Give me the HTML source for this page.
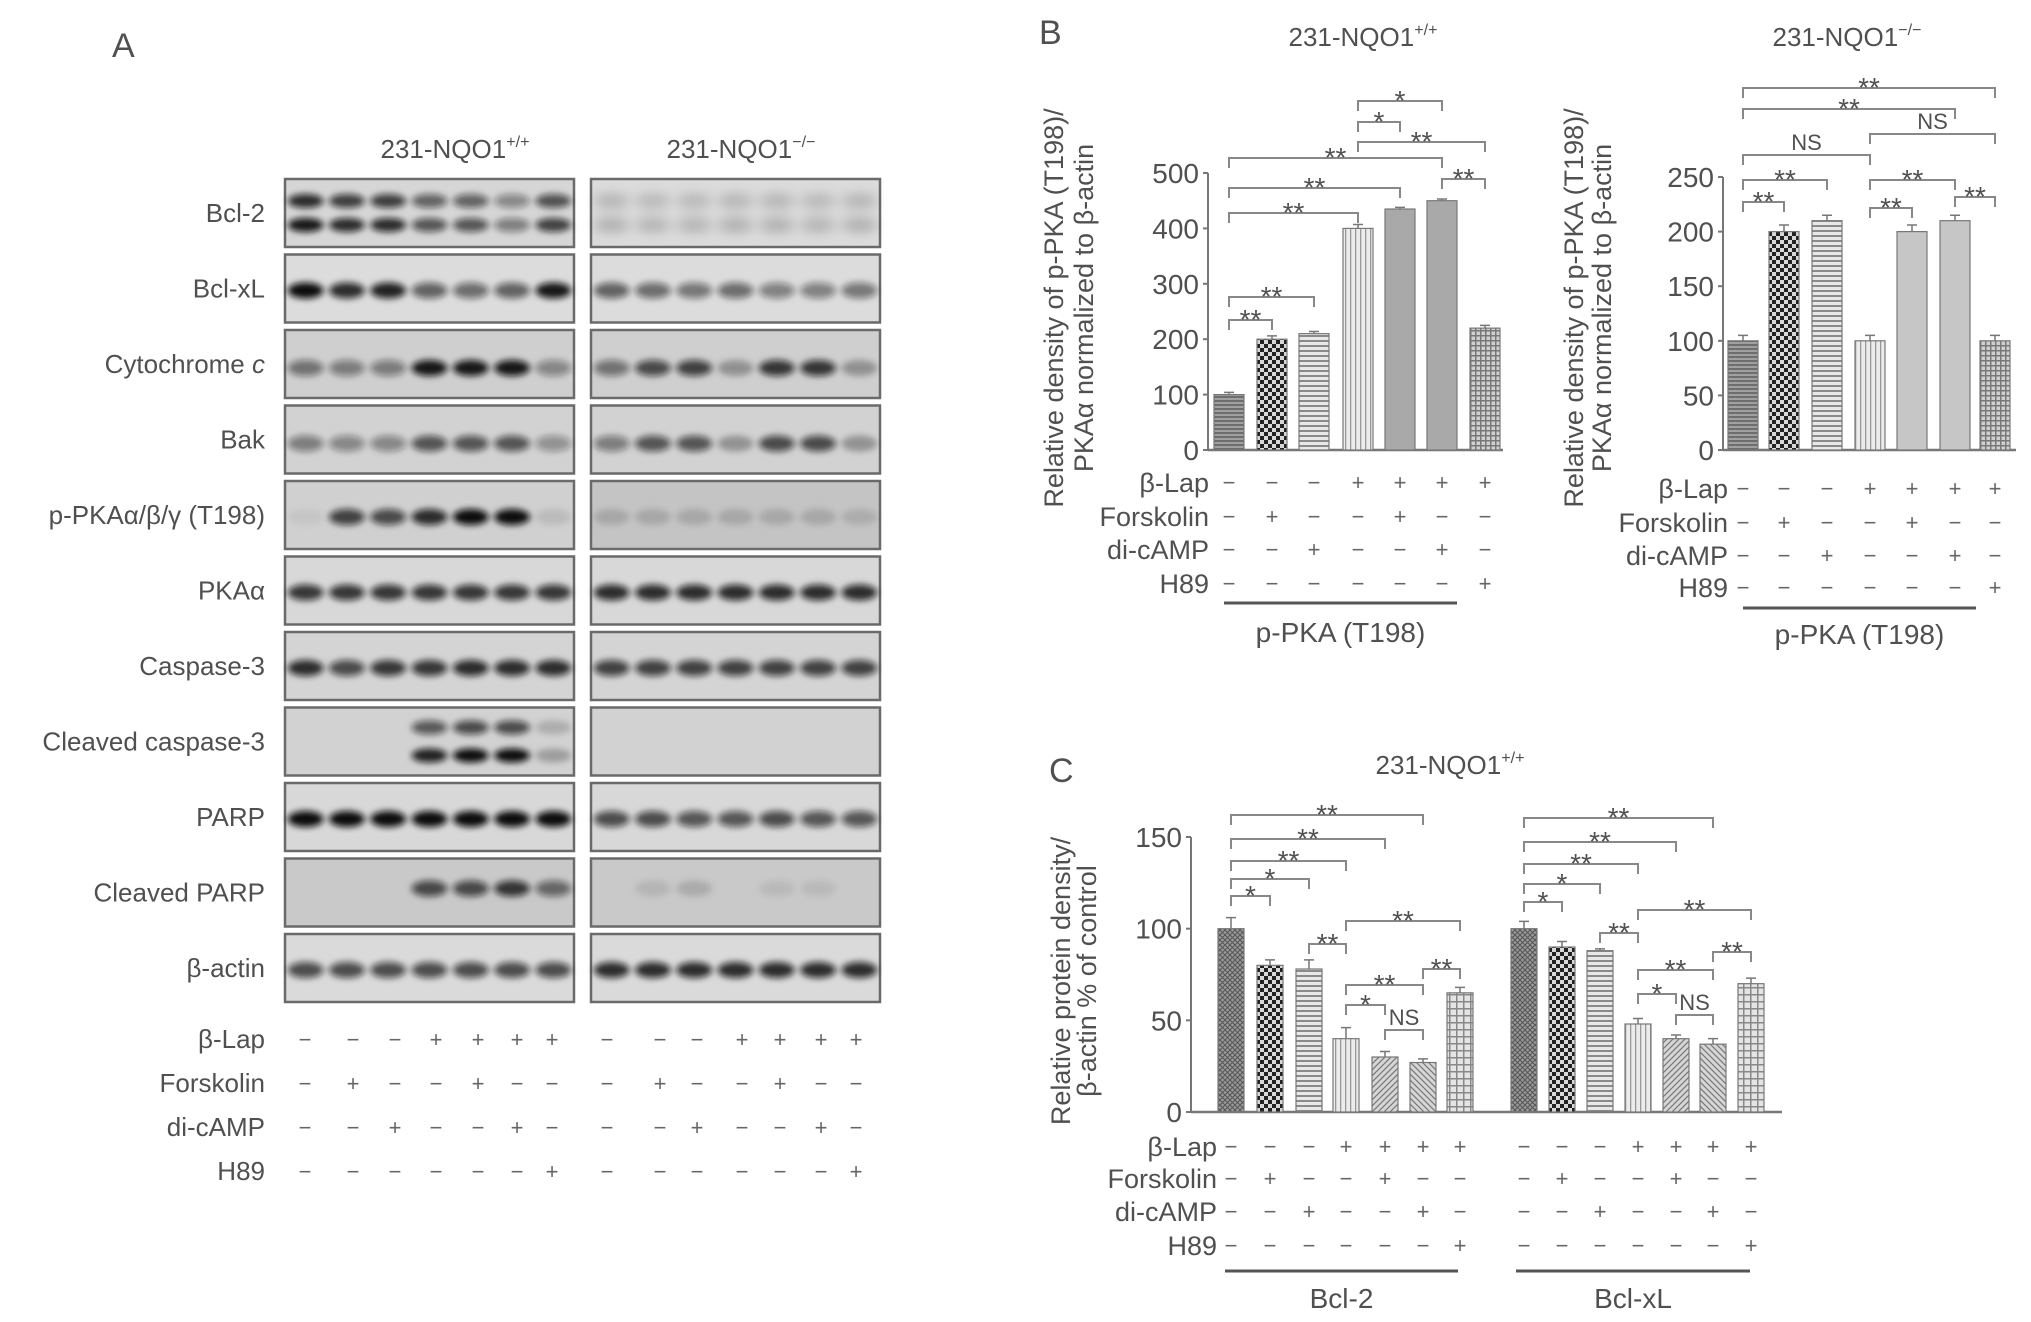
<!DOCTYPE html>
<html><head><meta charset="utf-8"><style>
html,body{margin:0;padding:0;background:#fff}
svg{display:block;font-family:"Liberation Sans",sans-serif}
</style></head><body>
<svg id="fig" width="2031" height="1322" viewBox="0 0 2031 1322" xmlns="http://www.w3.org/2000/svg">
<defs>
<filter id="blur" x="-30%" y="-80%" width="160%" height="260%"><feGaussianBlur stdDeviation="3.2"/></filter>
<filter id="blur2" x="-30%" y="-80%" width="160%" height="260%"><feGaussianBlur stdDeviation="6"/></filter>
<pattern id="p0" width="5" height="5" patternUnits="userSpaceOnUse"><rect width="5" height="5" fill="#9a9a9a"/><path d="M0 0L5 5M5 0L0 5" stroke="#555" stroke-width="1"/></pattern>
<pattern id="p0b" width="4" height="4" patternUnits="userSpaceOnUse"><rect width="4" height="4" fill="#a0a0a0"/><rect width="4" height="2" fill="#6e6e6e"/></pattern>
<pattern id="p1" width="8" height="8" patternUnits="userSpaceOnUse"><rect width="8" height="8" fill="#d8d8d8"/><rect width="4" height="4" fill="#222"/><rect x="4" y="4" width="4" height="4" fill="#222"/></pattern>
<pattern id="p2" width="6" height="5" patternUnits="userSpaceOnUse"><rect width="6" height="5" fill="#e8e8e8"/><rect width="6" height="2" fill="#8a8a8a"/></pattern>
<pattern id="p3" width="5" height="6" patternUnits="userSpaceOnUse"><rect width="5" height="6" fill="#ececec"/><rect width="1.3" height="6" fill="#999"/></pattern>
<pattern id="p4" width="6" height="6" patternUnits="userSpaceOnUse"><rect width="6" height="6" fill="#d6d6d6"/><path d="M-1 7L7 -1M-1 1L1 -1M5 7L7 5" stroke="#777" stroke-width="1.2"/></pattern>
<pattern id="p5" width="6" height="6" patternUnits="userSpaceOnUse"><rect width="6" height="6" fill="#d6d6d6"/><path d="M-1 -1L7 7M5 -1L7 1M-1 5L1 7" stroke="#777" stroke-width="1.2"/></pattern>
<pattern id="p6" width="7" height="7" patternUnits="userSpaceOnUse"><rect width="7" height="7" fill="#e4e4e4"/><rect width="7" height="1.5" fill="#888"/><rect width="1.5" height="7" fill="#888"/></pattern>
<pattern id="p6b" width="5" height="5" patternUnits="userSpaceOnUse"><rect width="5" height="5" fill="#d0d0d0"/><rect width="5" height="1.5" fill="#777"/><rect width="1.5" height="5" fill="#777"/></pattern>
</defs>
</svg>
<script>
// ---------- DATA ----------
const blotRows = ["Bcl-2","Bcl-xL","Cytochrome c","Bak","p-PKAα/β/γ (T198)","PKAα","Caspase-3","Cleaved caspase-3","PARP","Cleaved PARP","β-actin"];
const bandLeft = [
 [0.95,0.85,0.85,0.65,0.65,0.45,0.75],
 [1,0.85,0.9,0.6,0.55,0.6,0.95],
 [0.5,0.45,0.45,0.95,0.95,0.95,0.4],
 [0.45,0.4,0.4,0.65,0.65,0.65,0.35],
 [0.05,0.75,0.7,0.85,1,1,0.1],
 [0.8,0.8,0.8,0.8,0.8,0.8,0.8],
 [0.85,0.7,0.8,0.8,0.85,0.85,0.85],
 [0,0,0,0.9,1,1,0.25],
 [1,1,1,1,1,1,1],
 [0,0,0,0.7,0.7,0.8,0.55],
 [0.7,0.7,0.7,0.7,0.7,0.7,0.7]];
const bandRight = [
 [0.22,0.2,0.2,0.22,0.22,0.2,0.22],
 [0.6,0.55,0.5,0.55,0.45,0.45,0.5],
 [0.5,0.7,0.75,0.3,0.8,0.8,0.3],
 [0.45,0.65,0.65,0.3,0.7,0.7,0.3],
 [0.15,0.15,0.15,0.15,0.15,0.15,0.12],
 [0.85,0.85,0.85,0.85,0.85,0.85,0.85],
 [0.75,0.75,0.75,0.75,0.75,0.75,0.75],
 [0,0,0,0,0,0,0],
 [0.7,0.7,0.65,0.65,0.7,0.65,0.65],
 [0,0.1,0.15,0,0.08,0.08,0],
 [0.85,0.85,0.85,0.85,0.85,0.85,0.85]];
const treatNames = ["β-Lap","Forskolin","di-cAMP","H89"];
const treatSigns = [
 ["−","−","−","+","+","+","+"],
 ["−","+","−","−","+","−","−"],
 ["−","−","+","−","−","+","−"],
 ["−","−","−","−","−","−","+"]];
const bLeftValues = [100,200,210,400,435,450,220];
const bLeftErr = [4,6,4,7,3,3,5];
const bRightValues = [100,200,210,100,200,210,100];
const bRightErr = [5,6,5,5,6,5,5];
const bLeftTicks = [0,100,200,300,400,500];
const bRightTicks = [0,50,100,150,200,250];
const cBcl2Values = [100,80,78,40,30,27,65];
const cBcl2Err = [6,3,5,6,3,2,3];
const cBclxlValues = [100,90,88,48,40,37,70];
const cBclxlErr = [4,3,1,3,2,3,3];
const cTicks = [0,50,100,150];
const bLeftSig = [[0,1,"**"],[0,2,"**"],[0,3,"**"],[0,4,"**"],[0,5,"**"],[3,4,"*"],[3,5,"*"],[3,6,"**"],[5,6,"**"]];
const bRightSig = [[0,1,"**"],[0,2,"**"],[0,3,"NS"],[0,5,"**"],[0,6,"**"],[3,4,"**"],[3,5,"**"],[3,6,"NS"],[5,6,"**"]];
const cSig = [[0,1,"*"],[0,2,"*"],[0,3,"**"],[0,4,"**"],[0,5,"**"],[2,3,"**"],[3,6,"**"],[3,4,"*"],[3,5,"**"],[4,5,"NS"],[5,6,"**"]];

// ---------- layout (pixels) ----------
const bLeftSigY = [320,297,213,188,158,122,101,142,179];
const bRightSigY = [202,180,155,109,88,208,180,134,197];
const cBcl2SigY = [896,879,861,839,815,944,921,1005,985,1030,969];
const cBclxlSigY = [902,884,864,842,818,933,910,994,970,1015,952];

const svg = document.getElementById('fig');
const NS = "http://www.w3.org/2000/svg";
const TXT = "#505050", AX = "#777";
function el(tag, attrs, parent){const e=document.createElementNS(NS,tag);for(const k in attrs)e.setAttribute(k,attrs[k]);(parent||svg).appendChild(e);return e;}
function text(x,y,s,size,anchor,parent){const t=el('text',{x:x,y:y,'font-size':size,'text-anchor':anchor||'start',fill:TXT},parent);t.textContent=s;return t;}
function sup(x,y,base,supStr,size){const t=el('text',{x:x,y:y,'font-size':size,'text-anchor':'middle',fill:TXT});
  const a=el('tspan',{},t);a.textContent=base;const b=el('tspan',{'font-size':size*0.62,dy:-size*0.42},t);b.textContent=supStr;return t;}

// ---------- Panel A ----------
const gA = el('g',{});


let t = text(112,57,"A",34,'start',gA);


t = sup(455,158,"231-NQO1","+/+",26);


t = sup(741,158,"231-NQO1","−/−",26);


const boxes=[{x:285,w:289,data:bandLeft},{x:591,w:289,data:bandRight}];
const rowBg=["#d6d6d6","#dcdcdc","#cfcfcf","#d2d2d2","#d0d0d0","#d8d8d8","#d4d4d4","#d2d2d2","#d8d8d8","#c9c9c9","#dadada"];
blotRows.forEach((name,r)=>{
  const y0=179+r*75.5, h=68;
  let lab;
  if(r==2){
    lab=el('text',{x:265,y:y0+h/2+9,'font-size':26,'text-anchor':'end',fill:TXT},gA);
    const a=el('tspan',{},lab);a.textContent="Cytochrome ";
    const b=el('tspan',{'font-style':'italic'},lab);b.textContent="c";
  } else lab=text(265,y0+h/2+9,name,26,'end',gA);
  
  
  boxes.forEach((b,bi)=>{
    let bg = rowBg[r]; if(bi==1 && r==4) bg="#c4c4c4"; if(bi==1&&r==0) bg="#dcdcdc";
    const rect=el('rect',{x:b.x,y:y0,width:b.w,height:h,fill:bg,stroke:"#6a6a6a",'stroke-width':2.5},gA);
    
    
    const g=el('g',{filter:(bi==1&&r==0)?'url(#blur2)':'url(#blur)'},gA);
    for(let i=0;i<7;i++){
      const v=b.data[r][i]; if(v<=0) continue;
      const cx=b.x+b.w/14*(2*i+1);
      const bands = (r==0)?[[-12,0.9],[12,1]]:(r==7)?[[-14,0.7],[14,1]]:[[r==2||r==3?4:r==9?-4:2,1]];
      bands.forEach(([dy,k])=>{
        const e=el('ellipse',{cx:cx,cy:y0+h/2+dy,rx:18,ry:(r==0||r==7)?7:8,fill:'#111','fill-opacity':Math.min(1,v*k)},g);
        
        
      });
    }
  });
});
const laneXL=[305,353,395,436,478,517,552], laneXR=[607,660,697,742,780,821,856];
const treatYA=[1039,1083,1127,1171];
treatNames.forEach((n,k)=>{
  const l=text(265,treatYA[k]+9,n,26,'end',gA);
  
  
  treatSigns[k].forEach((s,i)=>{
    [laneXL[i],laneXR[i]].forEach(x=>{const st=text(x,treatYA[k]+8,s,22,'middle',gA);st.setAttribute('fill','#666');
      
      });
  });
});

// ---------- chart helper ----------
function barChart(o){
  const g=el('g',{});
  
  
  const sy=v=>o.y0-(v-o.min)/(o.max-o.min)*(o.y0-o.yTop);
  const ya=el('line',{x1:o.axX,y1:o.y0,x2:o.axX,y2:o.yTop,stroke:AX,'stroke-width':2},g);
  
  
  const xa=el('line',{x1:o.axX,y1:o.y0,x2:o.axEnd,y2:o.y0,stroke:AX,'stroke-width':2.5},g);
  
  
  o.ticks.forEach(v=>{
    const tk=el('line',{x1:o.axX-5,y1:sy(v),x2:o.axX,y2:sy(v),stroke:AX,'stroke-width':2},g);
    
    
    const tl=text(o.axX-9,sy(v)+10,String(v),28,'end',g);
    
    
  });
  o.series.forEach((s,si)=>{
    s.values.forEach((v,i)=>{
      const cx=s.xs[i];
      const r=el('rect',{x:cx-o.bw/2,y:sy(v),width:o.bw,height:o.y0-sy(v),fill:'url(#'+o.pats[i]+')',stroke:'#777','stroke-width':1.2},g);
      
      
      const e=s.err[i];
      const eb=el('path',{d:`M${cx} ${sy(v)} V${sy(v+e)} M${cx-5} ${sy(v+e)} H${cx+5}`,stroke:'#777','stroke-width':1.5,fill:'none'},g);
      
      
    });
    s.sig.forEach(([a,b,lab],k)=>{
      const x1=s.xs[a],x2=s.xs[b],y=s.sigY[k];
      const p=el('path',{d:`M${x1} ${y+10} V${y} H${x2} V${y+10}`,stroke:'#888','stroke-width':2,fill:'none'},g);
      
      
      const lt=text((x1+x2)/2,lab=="NS"?y-5:y+9,lab,lab=="NS"?22:28,'middle',g);
      
      
    });
    treatSigns.forEach((row,k)=>{
      row.forEach((sgn,i)=>{const st=text(s.xs[i],o.treatY[k]+8,sgn,22,'middle',g);st.setAttribute('fill','#666');
        
        });
    });
    const ul=el('line',{x1:s.line[0],y1:o.lineY,x2:s.line[1],y2:o.lineY,stroke:'#555','stroke-width':3},g);
    
    
    const gl=text((s.line[0]+s.line[1])/2,o.groupY,s.group,28,'middle',g);
    
    
  });
  treatNames.forEach((n,k)=>{const l=text(o.treatLabX,o.treatY[k]+10,n,27,'end',g);
    
    });
  const yt=el('text',{transform:`translate(${o.titleX[0]},${o.titleCY}) rotate(-90)`,'font-size':27,'text-anchor':'middle',fill:TXT},g);
  
  
  const s1=el('tspan',{x:0,y:0},yt);s1.textContent=o.title[0];
  const s2=el('tspan',{x:0,y:o.titleX[1]-o.titleX[0]},yt);s2.textContent=o.title[1];
}

t=text(1039,44,"B",34,'start');


t=sup(1363,46,"231-NQO1","+/+",26);


t=sup(1847,46,"231-NQO1","−/−",26);



barChart({name:'chart-b-left',axX:1208,axEnd:1503,y0:450,yTop:173,min:0,max:500,ticks:bLeftTicks,bw:30,
  pats:['p0b','p1','p2','p3','solidB','solidB','p6b'],
  series:[{key:'ppka-pos',values:bLeftValues,err:bLeftErr,xs:[1229,1272,1314,1358,1400,1442,1485],sig:bLeftSig,sigY:bLeftSigY,line:[1224,1457],group:'p-PKA (T198)'}],
  treatY:[482,516,549,583],treatLabX:1209,lineY:603,groupY:642,
  titleX:[1063,1093],titleCY:308,title:["Relative density of p-PKA (T198)/","PKAα normalized to β-actin"]});
barChart({name:'chart-b-right',axX:1723,axEnd:2016,y0:450,yTop:177,min:0,max:250,ticks:bRightTicks,bw:30,
  pats:['p0b','p1','p2','p3','solidC','solidC','p6b'],
  series:[{key:'ppka-neg',values:bRightValues,err:bRightErr,xs:[1743,1784,1827,1870,1912,1955,1995],sig:bRightSig,sigY:bRightSigY,line:[1743,1976],group:'p-PKA (T198)'}],
  treatY:[488,522,555,587],treatLabX:1728,lineY:608,groupY:644,
  titleX:[1583,1611],titleCY:308,title:["Relative density of p-PKA (T198)/","PKAα normalized to β-actin"]});

t=text(1049,782,"C",34,'start');


t=sup(1450,774,"231-NQO1","+/+",26);


barChart({name:'chart-c',axX:1191,axEnd:1782,y0:1112,yTop:837,min:0,max:150,ticks:cTicks,bw:26,
  pats:['p0','p1','p2','p3','p4','p5','p6'],
  series:[
   {key:'bcl2',values:cBcl2Values,err:cBcl2Err,xs:[1231,1270,1309,1346,1385,1423,1460],sig:cSig,sigY:cBcl2SigY,line:[1225,1458],group:'Bcl-2'},
   {key:'bclxl',values:cBclxlValues,err:cBclxlErr,xs:[1524,1562,1600,1638,1676,1713,1751],sig:cSig,sigY:cBclxlSigY,line:[1516,1750],group:'Bcl-xL'}],
  treatY:[1146,1178,1211,1245],treatLabX:1217,lineY:1271,groupY:1308,
  titleX:[1070,1096],titleCY:981,title:["Relative protein density/","β-actin % of control"]});
document.querySelectorAll('rect').forEach(r=>{
  if(r.getAttribute('fill')=='url(#solidB)') r.setAttribute('fill','#a9a9a9');
  if(r.getAttribute('fill')=='url(#solidC)') r.setAttribute('fill','#c6c6c6');
});
</script>
</body></html>
